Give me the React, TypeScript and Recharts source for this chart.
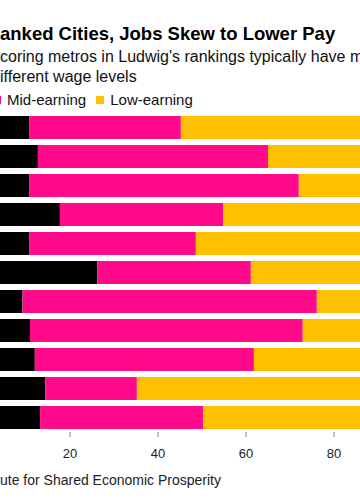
import { Bar, BarChart, XAxis, YAxis } from 'recharts';

// Metros in rank order (axis labels sit outside the visible crop)
const ranks = ['1', '2', '3', '4', '5', '6', '7', '8', '9', '10', '11'];
// Share of jobs, %
const highEarning = [10.7, 12.7, 10.7, 17.7, 10.8, 26.2, 9.2, 10.9, 12.0, 14.4, 13.2];
const midEarning = [34.5, 52.3, 61.3, 37.1, 37.8, 34.9, 66.9, 62.0, 49.8, 20.8, 37.1];
const lowEarning = [54.8, 35.0, 28.0, 45.2, 51.4, 38.9, 23.9, 27.1, 38.2, 64.8, 49.7];
const xTicks = [0, 20, 40, 60, 80, 100];

const SERIES = [
  { key: 'high', name: 'High-earning', color: '#000000' },
  { key: 'mid', name: 'Mid-earning', color: '#ff0a8a' },
  { key: 'low', name: 'Low-earning', color: '#ffc000' },
];

const data = ranks.map((rank, i) => ({
  rank,
  high: highEarning[i],
  mid: midEarning[i],
  low: lowEarning[i],
}));

const FONT = '"Liberation Sans", Arial, Helvetica, sans-serif';

// A line whose start runs off the left edge of the frame.
function CutLine({ hidden, shown, style }: { hidden: string; shown: string; style: React.CSSProperties }) {
  return (
    <div style={{ position: 'absolute', left: 0, whiteSpace: 'nowrap', ...style }}>
      <span style={{ position: 'absolute', right: '100%', top: 0 }}>{hidden}</span>
      {shown}
    </div>
  );
}

function LegendItem({ name, color }: { name: string; color: string }) {
  return (
    <span style={{ display: 'inline-flex', alignItems: 'center', marginRight: 10 }}>
      <span style={{ width: 8, height: 8, background: color, marginRight: 6, display: 'inline-block' }} />
      {name}
    </span>
  );
}

export default function App() {
  return (
    <div
      style={{
        position: 'absolute',
        top: 0,
        left: 0,
        width: 360,
        height: 504,
        overflow: 'hidden',
        background: '#fff',
        fontFamily: FONT,
        color: '#000',
      }}
    >
      <CutLine
        hidden="In Top-R"
        shown="anked Cities, Jobs Skew to Lower Pay"
        style={{ top: 22.5, fontSize: 18.5, fontWeight: 700, lineHeight: '22px' }}
      />
      <CutLine
        hidden="Top-s"
        shown="coring metros in Ludwig's rankings typically have more low-wage jobs"
        style={{ top: 46.5, fontSize: 16, lineHeight: '20px', color: '#111' }}
      />
      <CutLine
        hidden="Share of jobs at d"
        shown="ifferent wage levels"
        style={{ top: 66.5, fontSize: 16, lineHeight: '20px', color: '#111' }}
      />

      <div
        style={{
          position: 'absolute',
          top: 91,
          left: -7,
          display: 'flex',
          whiteSpace: 'nowrap',
          fontSize: 15,
          lineHeight: '17px',
          color: '#111',
        }}
      >
        <span style={{ position: 'absolute', right: '100%', top: 0 }}>
          <LegendItem name={SERIES[0].name} color={SERIES[0].color} />
        </span>
        <LegendItem name={SERIES[1].name} color={SERIES[1].color} />
        <LegendItem name={SERIES[2].name} color={SERIES[2].color} />
      </div>

      <div style={{ position: 'absolute', top: 0, left: -18 }}>
        <BarChart
          width={440}
          height={504}
          data={data}
          layout="vertical"
          margin={{ top: 113, right: 0, bottom: 42, left: 0 }}
        >
          <XAxis
            type="number"
            domain={[0, 100]}
            ticks={xTicks}
            axisLine={false}
            tickLine={{ stroke: '#888', strokeWidth: 1 }}
            tickSize={5}
            tickMargin={12}
            tick={{ fill: '#222', fontSize: 13, fontFamily: FONT }}
            height={30}
            interval={0}
          />
          <YAxis type="category" dataKey="rank" hide />
          {SERIES.map((s) => (
            <Bar
              key={s.key}
              dataKey={s.key}
              name={s.name}
              stackId="jobs"
              fill={s.color}
              barSize={23}
              isAnimationActive={false}
            />
          ))}
        </BarChart>
      </div>

      <CutLine
        hidden="Source: Ludwig Instit"
        shown="ute for Shared Economic Prosperity"
        style={{ top: 471.5, fontSize: 14, lineHeight: '16px', color: '#222' }}
      />
    </div>
  );
}
